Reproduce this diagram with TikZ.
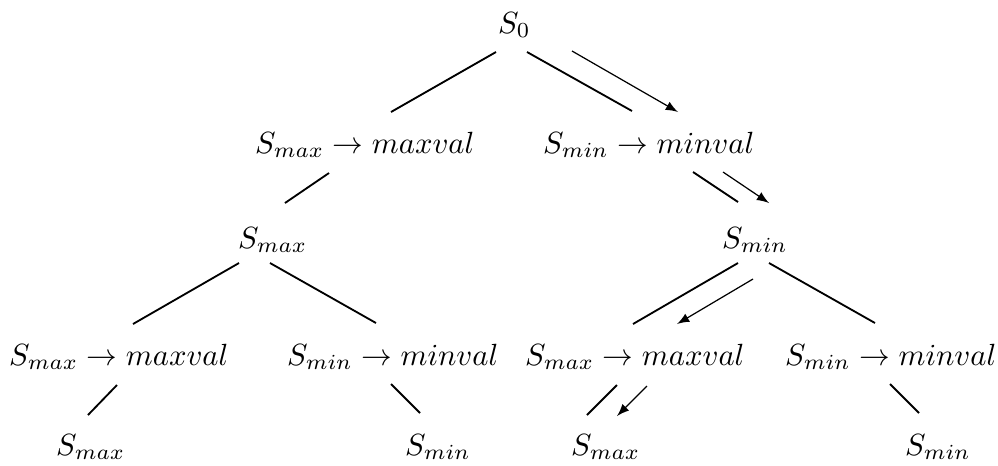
\documentclass[tikz,border=0pt]{standalone}
\begin{document}
\begin{tikzpicture}[x=0.3262pt,y=-0.3262pt,
  lbl/.style={anchor=base west,inner sep=0pt,outer sep=0pt},
  treeedge/.style={line width=0.6pt},
  moveedge/.style={line width=0.4pt,-latex}]
\useasboundingbox (0,0) rectangle (998,465);
% nodes
\node[lbl] (s0) at (498,33) {$S_0$};
\node[lbl] (l1a) at (255,153) {$S_{max} \rightarrow maxval$};
\node[lbl] (l1b) at (543,153) {$S_{min} \rightarrow minval$};
\node[lbl] (l2a) at (238,248) {$S_{max}$};
\node[lbl] (l2b) at (722,248) {$S_{min}$};
\node[lbl] (l3a) at (9,365) {$S_{max} \rightarrow maxval$};
\node[lbl] (l3b) at (287,365) {$S_{min} \rightarrow minval$};
\node[lbl] (l3c) at (525,365) {$S_{max} \rightarrow maxval$};
\node[lbl] (l3d) at (785,365) {$S_{min} \rightarrow minval$};
\node[lbl] (l4a) at (56,455) {$S_{max}$};
\node[lbl] (l4b) at (405,455) {$S_{min}$};
\node[lbl] (l4c) at (571,455) {$S_{max}$};
\node[lbl] (l4d) at (905,455) {$S_{min}$};
% connector end points
\coordinate (e1a) at (496,52);  \coordinate (e1b) at (391,112);
\coordinate (e2a) at (527,52);  \coordinate (e2b) at (632,111);
\coordinate (a1a) at (572,51);  \coordinate (a1b) at (678,112);
\coordinate (e3a) at (329,173); \coordinate (e3b) at (285,203);
\coordinate (e4a) at (693,172); \coordinate (e4b) at (738,202);
\coordinate (a2a) at (723,172); \coordinate (a2b) at (769,203);
\coordinate (e5a) at (239,263); \coordinate (e5b) at (133,324);
\coordinate (e6a) at (270,263); \coordinate (e6b) at (376,323);
\coordinate (e7a) at (738,263); \coordinate (e7b) at (633,324);
\coordinate (e8a) at (769,263); \coordinate (e8b) at (875,323);
\coordinate (a3a) at (753,279); \coordinate (a3b) at (677,324);
\coordinate (e9a) at (117,385); \coordinate (e9b) at (88,415);
\coordinate (e10a) at (391,384); \coordinate (e10b) at (420,413);
\coordinate (e11a) at (617,385); \coordinate (e11b) at (587,415);
\coordinate (a4a) at (647,386); \coordinate (a4b) at (617,416);
\coordinate (e12a) at (890,384); \coordinate (e12b) at (919,413);
% tree edges
\draw[treeedge] (e1a) -- (e1b);
\draw[treeedge] (e2a) -- (e2b);
\draw[treeedge] (e3a) -- (e3b);
\draw[treeedge] (e4a) -- (e4b);
\draw[treeedge] (e5a) -- (e5b);
\draw[treeedge] (e6a) -- (e6b);
\draw[treeedge] (e7a) -- (e7b);
\draw[treeedge] (e8a) -- (e8b);
\draw[treeedge] (e9a) -- (e9b);
\draw[treeedge] (e10a) -- (e10b);
\draw[treeedge] (e11a) -- (e11b);
\draw[treeedge] (e12a) -- (e12b);
% move arrows
\draw[moveedge] (a1a) -- (a1b);
\draw[moveedge] (a2a) -- (a2b);
\draw[moveedge] (a3a) -- (a3b);
\draw[moveedge] (a4a) -- (a4b);
\end{tikzpicture}
\end{document}
